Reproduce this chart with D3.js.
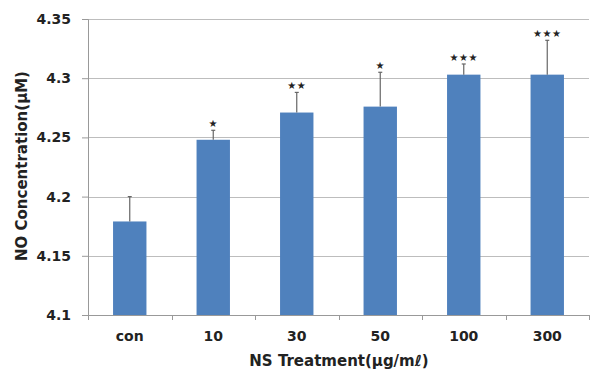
<!DOCTYPE html>
<html>
<head>
<meta charset="utf-8">
<script src="https://cdn.jsdelivr.net/npm/d3@7"></script>
<style>
  body { margin: 0; background: #fff; }
  text { font-family: "DejaVu Sans", sans-serif; font-weight: bold; fill: #222; }
</style>
</head>
<body>
<svg id="chart" width="590" height="370"></svg>
<script>
const categories = ["con", "10", "30", "50", "100", "300"];
const means = [4.179, 4.248, 4.271, 4.276, 4.303, 4.303];
const errors = [0.021, 0.008, 0.017, 0.029, 0.009, 0.029];
const stars = ["", "★", "★★", "★", "★★★", "★★★"];
const yTicks = [4.1, 4.15, 4.2, 4.25, 4.3, 4.35];

const svg = d3.select("#chart");
const margin = {left: 88, right: 1, top: 19, bottom: 55};
const width = 590 - margin.left - margin.right;
const height = 370 - margin.top - margin.bottom;

const g = svg.append("g").attr("transform", `translate(${margin.left},${margin.top})`);

const x = d3.scaleBand().domain(categories).range([0, width]).paddingInner(0.6).paddingOuter(0.3);
const y = d3.scaleLinear().domain([4.1, 4.35]).range([height, 0]);

// gridlines
g.selectAll(".grid")
  .data(yTicks.slice(1))
  .enter().append("line")
  .attr("x1", 0).attr("x2", width)
  .attr("y1", d => Math.round(y(d)) + 0.5).attr("y2", d => Math.round(y(d)) + 0.5)
  .attr("stroke", "#bdbdbd");

// bars
const data = categories.map((c, i) => ({c, m: means[i], e: errors[i], s: stars[i]}));
g.selectAll(".bar")
  .data(data)
  .enter().append("rect")
  .attr("x", d => x(d.c))
  .attr("width", x.bandwidth())
  .attr("y", d => y(d.m))
  .attr("height", d => height - y(d.m))
  .attr("fill", "#4f81bd");

// error bars (upper only)
const eb = g.selectAll(".err").data(data).enter().append("g");
eb.append("line")
  .attr("x1", d => x(d.c) + x.bandwidth() / 2).attr("x2", d => x(d.c) + x.bandwidth() / 2)
  .attr("y1", d => y(d.m)).attr("y2", d => y(d.m + d.e))
  .attr("stroke", "#666").attr("stroke-width", 1.2);
eb.append("line")
  .attr("x1", d => x(d.c) + x.bandwidth() / 2 - 2).attr("x2", d => x(d.c) + x.bandwidth() / 2 + 2)
  .attr("y1", d => y(d.m + d.e)).attr("y2", d => y(d.m + d.e))
  .attr("stroke", "#666").attr("stroke-width", 1.2);

// significance stars
g.selectAll(".star")
  .data(data)
  .enter().append("text")
  .attr("x", d => x(d.c) + x.bandwidth() / 2)
  .attr("y", d => y(d.m + d.e) - 3)
  .attr("text-anchor", "middle")
  .style("font-size", "10px")
  .style("font-weight", "normal")
  .style("letter-spacing", "0.5px")
  .attr("fill", "#555")
  .text(d => d.s);

// x axis
const xAxis = g.append("g")
  .attr("transform", `translate(0,${height})`)
  .call(d3.axisBottom(x).tickSize(0).tickPadding(16));
xAxis.select(".domain").attr("stroke", "#999");
xAxis.selectAll("text").style("font-size", "14px").attr("fill", "#222");

// x tick marks between categories
const bounds = d3.range(categories.length + 1).map(i => i * x.step());
xAxis.selectAll(".sep")
  .data(bounds)
  .enter().append("line")
  .attr("x1", d => Math.round(d) + 0.5).attr("x2", d => Math.round(d) + 0.5)
  .attr("y1", 0).attr("y2", 5)
  .attr("stroke", "#999");

// y axis
const yAxis = g.append("g")
  .call(d3.axisLeft(y).tickValues(yTicks).tickFormat(d3.format("")).tickSize(6).tickPadding(11));
yAxis.select(".domain").attr("stroke", "#999");
yAxis.selectAll(".tick line").attr("stroke", "#999");
yAxis.selectAll("text").style("font-size", "14px").attr("fill", "#222");

// axis titles
svg.append("text")
  .attr("x", 339).attr("y", 366)
  .attr("text-anchor", "middle")
  .style("font-size", "15px")
  .text("NS Treatment(μg/mℓ)");

svg.append("text")
  .attr("transform", "translate(27,166) rotate(-90)")
  .attr("text-anchor", "middle")
  .style("font-size", "15px")
  .text("NO Concentration(μM)");
</script>
</body>
</html>
